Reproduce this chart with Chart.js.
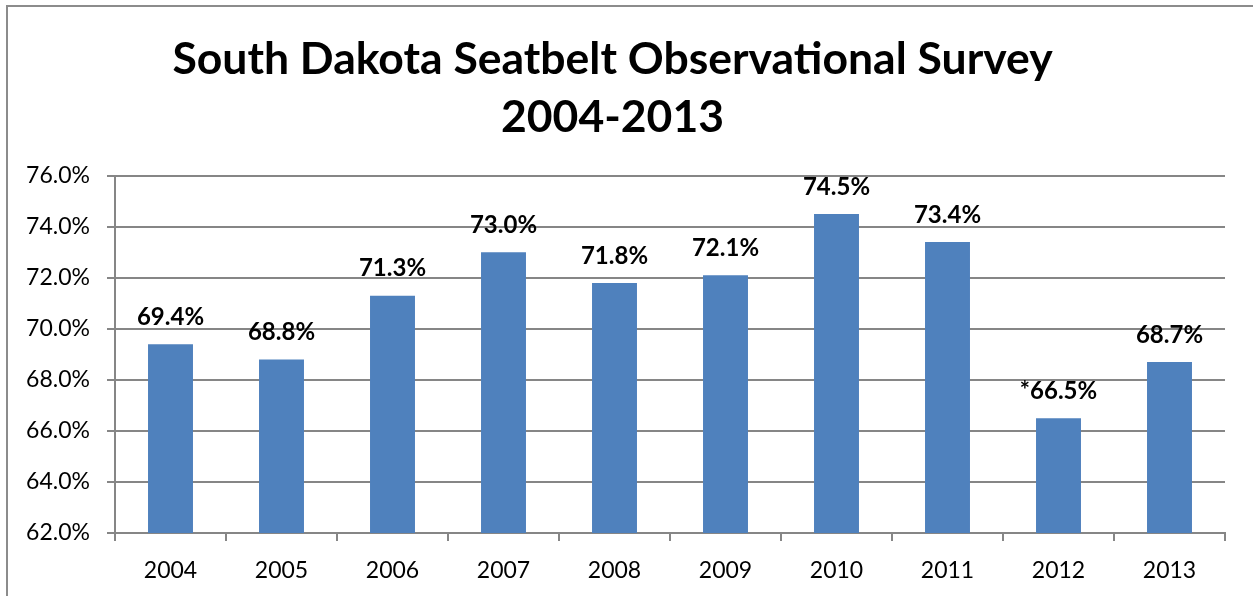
<!DOCTYPE html>
<html>
<head>
<meta charset="utf-8">
<script src="https://cdn.jsdelivr.net/npm/chart.js@4/dist/chart.umd.min.js"></script>
<style>
html,body{margin:0;padding:0;background:#fff;}
#wrap{position:relative;width:1253px;height:596px;}
canvas{display:block;}
</style>
</head>
<body>
<div id="wrap"><canvas id="c" width="1253" height="596"></canvas></div>
<script>
const years = ['2004','2005','2006','2007','2008','2009','2010','2011','2012','2013'];
const rates = [69.4, 68.8, 71.3, 73.0, 71.8, 72.1, 74.5, 73.4, 66.5, 68.7];
const valueLabels = ['69.4%','68.8%','71.3%','73.0%','71.8%','72.1%','74.5%','73.4%','*66.5%','68.7%'];
const titleLines = ['South Dakota Seatbelt Observational Survey', '2004-2013'];
const yMin = 62, yMax = 76, yStep = 2;

const FONT = "Lato, 'Open Sans', sans-serif";
const GRAY = '#868686';

const frame = {
  id: 'frame',
  beforeDraw(chart) {
    const ctx = chart.ctx;
    ctx.save();
    ctx.fillStyle = '#fff';
    ctx.fillRect(0, 0, chart.width, chart.height);
    ctx.strokeStyle = '#8c8c8c';
    ctx.lineWidth = 2;
    ctx.beginPath();
    ctx.moveTo(7, chart.height);
    ctx.lineTo(7, 6);
    ctx.lineTo(chart.width, 6);
    ctx.stroke();
    ctx.restore();
  }
};

const valueLabelPlugin = {
  id: 'valueLabels',
  afterDatasetsDraw(chart) {
    const ctx = chart.ctx;
    const meta = chart.getDatasetMeta(0);
    ctx.save();
    ctx.font = "bold 24px " + FONT;
    ctx.fillStyle = '#000';
    ctx.textAlign = 'center';
    ctx.textBaseline = 'middle';
    meta.data.forEach((bar, i) => {
      ctx.fillText(valueLabels[i], bar.x, bar.y - 27);
    });
    ctx.restore();
  }
};

new Chart(document.getElementById('c'), {
  type: 'bar',
  data: {
    labels: years,
    datasets: [{
      data: rates,
      backgroundColor: '#4F81BD',
      borderWidth: 0,
      barPercentage: 0.405,
      categoryPercentage: 1.0
    }]
  },
  options: {
    responsive: false,
    animation: false,
    layout: { padding: { left: 0, right: 28, top: 0, bottom: 0 } },
    plugins: {
      legend: { display: false },
      tooltip: { enabled: false },
      title: {
        display: true,
        text: titleLines,
        color: '#000',
        font: { family: FONT, size: 44.5, weight: 'bold', lineHeight: 1.3 },
        padding: { top: 31, bottom: 29 }
      }
    },
    scales: {
      x: {
        offset: true,
        grid: {
          offset: true,
          drawOnChartArea: false,
          drawTicks: true,
          tickLength: 8,
          color: GRAY,
          lineWidth: 2
        },
        border: { color: GRAY, width: 2 },
        ticks: {
          color: '#000',
          font: { family: FONT, size: 23 },
          padding: 16,
          maxRotation: 0
        },
        afterFit(scale) { scale.height = 63; }
      },
      y: {
        min: yMin,
        max: yMax,
        grid: {
          color: GRAY,
          lineWidth: 2,
          drawTicks: true,
          tickLength: 8
        },
        border: { color: GRAY, width: 2 },
        ticks: {
          stepSize: yStep,
          color: '#000',
          font: { family: FONT, size: 23 },
          padding: 17,
          callback: v => v.toFixed(1) + '%'
        },
        afterFit(scale) { scale.width = 115; }
      }
    }
  },
  plugins: [frame, valueLabelPlugin]
});
</script>
</body>
</html>
